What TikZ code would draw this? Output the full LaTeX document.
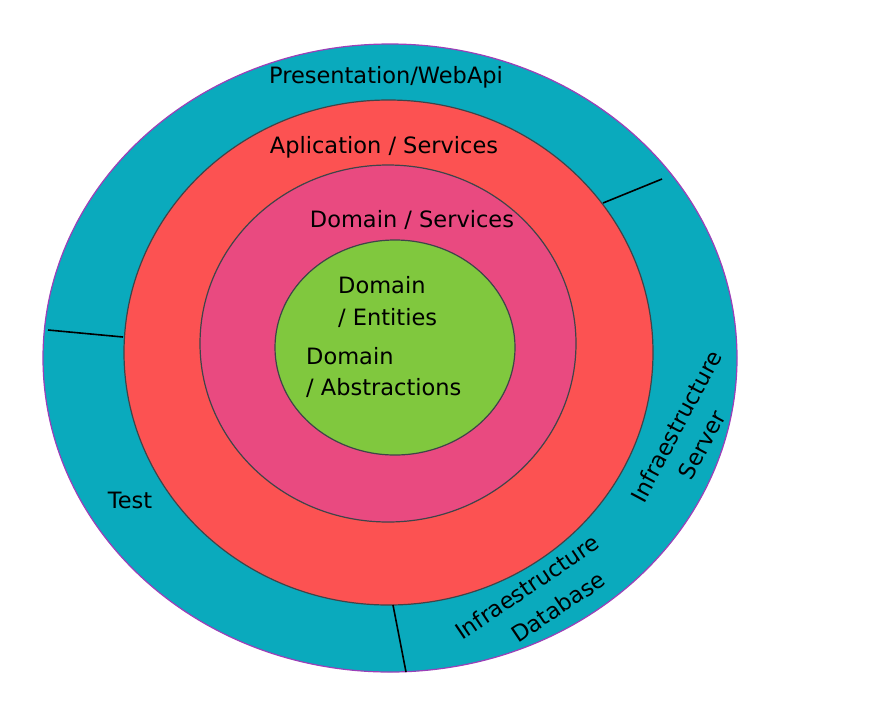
\documentclass[tikz,border=0pt]{standalone}
\usepackage{fontspec}
\setmainfont{DejaVu Sans}
\definecolor{cteal}{HTML}{0AAABD}
\definecolor{cred}{HTML}{FC5252}
\definecolor{cpink}{HTML}{E94A80}
\definecolor{cgreen}{HTML}{80C83E}
\definecolor{cedge}{HTML}{3F4449}
\definecolor{cpurple}{HTML}{9C3FB8}
\tikzset{
  ring/.style={draw=cedge, line width=1.2pt},
  outerring/.style={draw=cpurple, line width=1.2pt, fill=cteal},
  divider/.style={draw=black, line width=1.6pt},
  lbl/.style={font=\fontsize{22.5}{33}\selectfont, text=black, inner sep=0pt},
}
\begin{document}
\begin{tikzpicture}[x=1pt,y=-1pt]
\useasboundingbox (0,0) rectangle (888,716);
\fill[white] (0,0) rectangle (888,716);
% rings
\draw[outerring] (390,358) ellipse [x radius=347, y radius=314];
\draw[ring, fill=cred] (388.5,352.5) ellipse [x radius=264.5, y radius=252.5];
\draw[ring, fill=cpink] (388,343.5) ellipse [x radius=188, y radius=178.5];
\draw[ring, fill=cgreen] (395,347.5) ellipse [x radius=120, y radius=107.5];
% dividers in the outer ring
\coordinate (d1a) at (48,330);  \coordinate (d1b) at (123,337);
\coordinate (d2a) at (603,203); \coordinate (d2b) at (662,179);
\coordinate (d3a) at (393,605); \coordinate (d3b) at (406,672);
\draw[divider] (d1a) -- (d1b);
\draw[divider] (d2a) -- (d2b);
\draw[divider] (d3a) -- (d3b);
% labels
\node[lbl] (pres) at (386,77) {Presentation/WebApi};
\node[lbl] (app) at (384,147) {Aplication / Services};
\node[lbl] (dserv) at (412,220) {Domain / Services};
\node[lbl, anchor=west] (dent1) at (338,285) {Domain};
\node[lbl, anchor=west] (dent2) at (338,318) {/ Entities};
\node[lbl, anchor=west] (dabs1) at (306,356) {Domain};
\node[lbl, anchor=west] (dabs2) at (306,388) {/ Abstractions};
\node[lbl] (test) at (130,500) {Test};
\node[lbl, rotate=62] (iserv1) at (676,426) {Infraestructure};
\node[lbl, rotate=62] (iserv2) at (702,445) {Server};
\node[lbl, rotate=34] (idb1) at (527,587) {Infraestructure};
\node[lbl, rotate=34] (idb2) at (558,607) {Database};
\end{tikzpicture}
\end{document}
